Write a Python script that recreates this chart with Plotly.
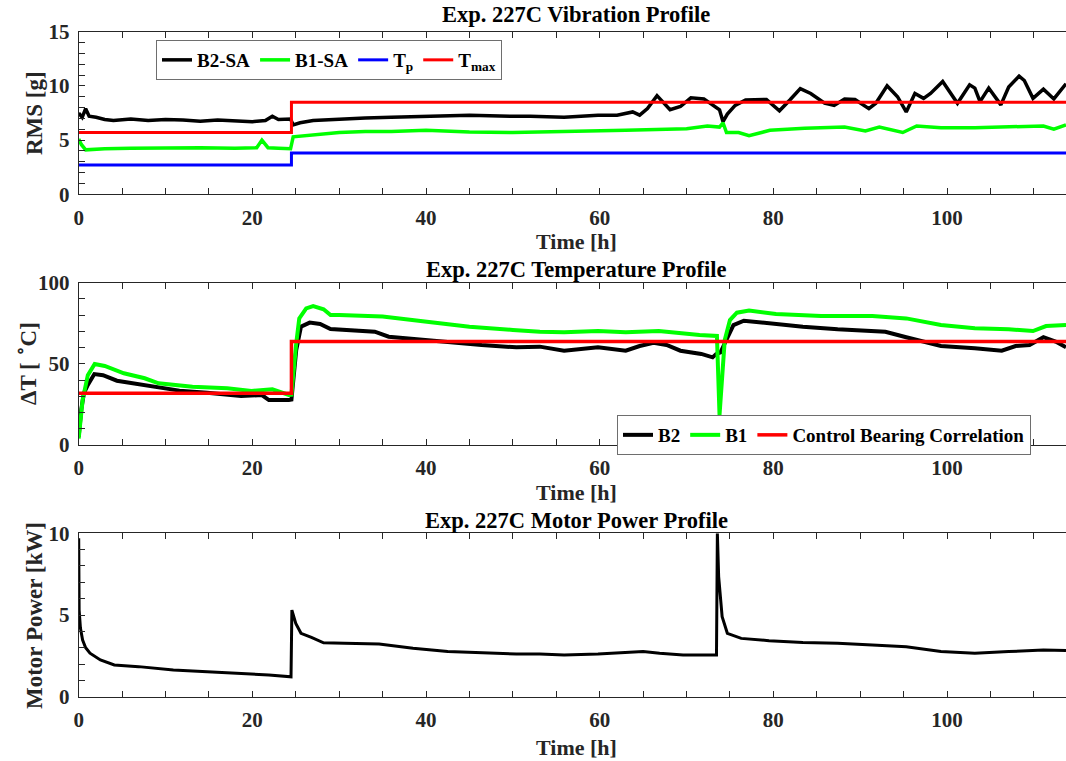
import plotly.graph_objects as go

# ---------------- Vibration profile (RMS [g]) ----------------
vib_b2_t = [0, 0.4, 0.8, 1.2, 2, 3, 4, 6, 8, 10, 12, 14, 16, 18, 20, 21.5, 22.3, 23, 24.4, 24.7,
            25.5, 27, 30, 33, 36, 40, 45, 50, 52, 55.9, 59.8, 62, 63.8, 64.6, 65.5, 66.6, 68.1,
            69.3, 70.5, 72.0, 73.3, 73.8, 74.2, 74.7, 75.6, 76.8, 79.2, 80.7, 81.9, 83.1, 84.3,
            85.9, 87.0, 88.2, 89.4, 91.0, 91.8, 93.1, 94.3, 95.3, 96.3, 97.3, 98.1, 99.5, 101.2,
            102.6, 103.2, 103.8, 104.8, 106.2, 107.1, 108.3, 108.9, 109.9, 111.1, 112.3, 113.7]
vib_b2 = [7.5, 7.1, 7.9, 7.2, 7.1, 6.9, 6.8, 6.95, 6.8, 6.9, 6.85, 6.75, 6.85, 6.8, 6.7, 6.8, 7.2,
          6.9, 6.95, 6.4, 6.6, 6.8, 6.95, 7.05, 7.1, 7.2, 7.3, 7.2, 7.2, 7.1, 7.3, 7.3, 7.6, 7.3,
          7.9, 9.1, 7.8, 8.1, 8.9, 8.8, 8.1, 7.8, 6.7, 7.4, 8.2, 8.7, 8.75, 7.7, 8.7, 9.75, 9.3,
          8.4, 8.2, 8.8, 8.75, 7.9, 8.4, 10.0, 9.0, 7.6, 9.3, 8.85, 9.3, 10.4, 8.4, 10.1, 9.8,
          8.55, 9.8, 8.25, 9.9, 10.9, 10.5, 8.85, 9.7, 8.8, 10.2]

vib_b1_t = [0, 0.3, 0.8, 1.5, 3, 6, 10, 14, 18, 20.5, 21.1, 21.8, 23, 24.4, 24.7, 26, 28, 30, 33,
            36, 40, 45, 50, 55, 59.8, 63, 67.7, 70, 72.4, 73.8, 74.2, 74.6, 76, 77.2, 79.6, 83.6,
            88.2, 90.6, 92.2, 94.9, 96.5, 99.3, 103.2, 107.1, 111.1, 112.3, 113.7]
vib_b1 = [5.1, 4.6, 4.1, 4.15, 4.2, 4.25, 4.3, 4.3, 4.25, 4.3, 5.0, 4.3, 4.25, 4.2, 5.3, 5.4, 5.6,
          5.7, 5.8, 5.8, 5.9, 5.75, 5.7, 5.75, 5.8, 5.9, 6.0, 6.05, 6.3, 6.2, 6.6, 5.7, 5.7, 5.4,
          5.9, 6.1, 6.2, 5.85, 6.2, 5.7, 6.3, 6.15, 6.15, 6.2, 6.3, 6.0, 6.4]

# Threshold steps (Tp, Tmax) change at the speed step
step_t = [0, 24.5, 113.7]
tp_vals = [2.7, 3.8, 3.8]
tmax_vals = [5.7, 8.5, 8.5]

# ---------------- Temperature profile (dT [C]) ----------------
temp_b2_t = [0, 0.3, 0.6, 1.05, 1.8, 2.8, 4.4, 6.8, 9.2, 11.6, 14.8, 18.7, 21.1, 21.9, 24.2, 24.5,
             25.05, 25.6, 26.6, 27.8, 29.0, 32.1, 34.1, 35.7, 38.5, 42.5, 46.4, 50.4, 53.1, 55.9,
             59.8, 63.0, 64.6, 66.2, 67.7, 69.3, 71.7, 73.0, 73.4, 73.9, 74.6, 75.4, 76.6, 79.5,
             83.4, 87.4, 92.9, 95.3, 99.3, 103.2, 106.3, 107.9, 109.5, 111.1, 112.5, 113.7]
temp_b2 = [5, 22, 32, 37, 43.7, 43, 39.6, 37.6, 35.5, 33.5, 32.2, 30.2, 30.8, 27.7, 27.7, 28, 58.5,
           72.9, 75.4, 74.6, 71.5, 70.4, 69.8, 66.7, 65.3, 63, 61.6, 60.2, 60.6, 58.1, 60.2, 58.1,
           61, 63, 61.6, 58.1, 56.1, 54, 56, 57, 64.7, 73.9, 76.6, 75, 72.9, 71.3, 69.8, 66.4, 61,
           59.6, 58.1, 61, 61.6, 66.4, 63.7, 60.2]

temp_b1_t = [0, 0.2, 0.45, 1.05, 1.5, 1.84, 3.0, 5.2, 7.6, 9.2, 13.1, 17.1, 19.9, 22.3, 24.2, 24.5,
             25.05, 25.4, 26.2, 27.0, 28.2, 29.0, 30, 35, 40.1, 45, 50, 53.1, 55.9, 59.8, 63, 66.8,
             71.5, 73.5, 73.8, 74.05, 74.4, 75.0, 75.8, 77.2, 80.3, 85.5, 91.4, 95.3, 99.3, 103.2,
             107.1, 109.9, 111.4, 113.7]
temp_b1 = [4, 15, 27.7, 43, 47.2, 49.9, 48.7, 44.2, 41.1, 38, 35.9, 34.9, 33.3, 34.3, 30.8, 31, 62.6,
           78, 84.2, 85.6, 83.6, 80.1, 80.1, 79.1, 76, 72.9, 70.9, 69.8, 69.5, 70.2, 69.5, 70.2,
           67.8, 67.2, 18.5, 40, 64.7, 77, 81.5, 82.8, 80.7, 79.5, 79.5, 78, 73.9, 71.9, 71.3, 70.2,
           73.3, 73.9]

corr_vals = [31.9, 63.8, 63.8]

# ---------------- Motor power profile (kW) ----------------
power_t = [0, 0.05, 0.2, 0.45, 0.8, 1.3, 2.5, 4.1, 6.9, 10.9, 14.8, 18.7, 21.9, 24.45, 24.55, 25.0,
           25.6, 26.8, 28.2, 30.6, 34.6, 38.5, 42.5, 46.5, 50.4, 53.1, 55.9, 59.8, 65.0, 66.9, 69.6,
           73.1, 73.45, 73.55, 73.7, 74.1, 74.7, 76.3, 79.5, 83.4, 87.4, 91.4, 95.3, 99.3, 103.2,
           107.1, 111.1, 113.7]
power = [9.7, 5.3, 4.2, 3.47, 3.0, 2.66, 2.25, 1.94, 1.84, 1.63, 1.53, 1.43, 1.33, 1.22, 5.3, 4.49,
         3.88, 3.63, 3.3, 3.27, 3.23, 2.96, 2.76, 2.69, 2.61, 2.61, 2.55, 2.61, 2.76, 2.66, 2.55,
         2.55, 2.55, 10.0, 7.35, 4.9, 3.88, 3.57, 3.43, 3.31, 3.27, 3.17, 3.06, 2.76, 2.66, 2.76,
         2.86, 2.82]

x_ticks = [0, 20, 40, 60, 80, 100]
titles = ["Exp. 227C Vibration Profile", "Exp. 227C Temperature Profile",
          "Exp. 227C Motor Power Profile"]
y_titles = ["RMS [g]", "ΔT [ <sup>∘</sup>C]", "Motor Power [kW]"]

# ---------------- layout geometry (pixels) ----------------
W, H = 1066, 761
FONT = "Liberation Serif"
AX = "#262626"
X_LEFT = 78.7
X_MAX = 113.7
panels = [(31.7, 194.3), (282.7, 445.0), (533.3, 696.7)]  # (top, bottom) pixel rows


def py(p):
    return 1 - p / H


def px(p):
    return p / W


fig = go.Figure()

fig.add_trace(go.Scatter(x=vib_b2_t, y=vib_b2, name="B2-SA", mode="lines",
                         line=dict(color="black", width=3.5), xaxis="x", yaxis="y"))
fig.add_trace(go.Scatter(x=vib_b1_t, y=vib_b1, name="B1-SA", mode="lines",
                         line=dict(color="#00ff00", width=3.5), xaxis="x", yaxis="y"))
fig.add_trace(go.Scatter(x=step_t, y=tp_vals, name="T<sub>p</sub>", mode="lines",
                         line=dict(color="#0000ff", width=3, shape="hv"), xaxis="x", yaxis="y"))
fig.add_trace(go.Scatter(x=step_t, y=tmax_vals, name="T<sub>max</sub>", mode="lines",
                         line=dict(color="#ff0000", width=3, shape="hv"), xaxis="x", yaxis="y"))

fig.add_trace(go.Scatter(x=temp_b2_t, y=temp_b2, name="B2", mode="lines", legend="legend2",
                         line=dict(color="black", width=4), xaxis="x2", yaxis="y2"))
fig.add_trace(go.Scatter(x=temp_b1_t, y=temp_b1, name="B1", mode="lines", legend="legend2",
                         line=dict(color="#00ff00", width=4), xaxis="x2", yaxis="y2"))
fig.add_trace(go.Scatter(x=step_t, y=corr_vals, name="Control Bearing Correlation", mode="lines",
                         legend="legend2", line=dict(color="#ff0000", width=3.5, shape="hv"),
                         xaxis="x2", yaxis="y2"))

fig.add_trace(go.Scatter(x=power_t, y=power, name="Motor Power", mode="lines", showlegend=False,
                         line=dict(color="black", width=3), xaxis="x3", yaxis="y3"))

tick_font = dict(family=FONT, size=21, color=AX, weight="bold")
y_specs = [(0, 15, 5, 1), (0, 100, 50, 10), (0, 10, 5, 1)]

for i, ((top, bot), (y0, y1, ydt, yminor)) in enumerate(zip(panels, y_specs)):
    sfx = "" if i == 0 else str(i + 1)
    fig.layout["xaxis" + sfx] = dict(
        domain=[px(X_LEFT), 1.0], range=[0, X_MAX], anchor="y" + sfx,
        tickvals=x_ticks, ticks="inside", ticklen=6, tickcolor=AX, tickwidth=1,
        minor=dict(dtick=5, tick0=0, ticks="inside", ticklen=6, tickcolor=AX, tickwidth=1),
        showline=True, linecolor=AX, linewidth=1, mirror="ticks",
        showgrid=False, zeroline=False, tickfont=tick_font, ticklabelstandoff=4,
        automargin=False, fixedrange=True)
    fig.layout["yaxis" + sfx] = dict(
        domain=[py(bot), py(top)], range=[y0, y1], anchor="x" + sfx,
        dtick=ydt, tick0=0, ticks="inside", ticklen=6, tickcolor=AX, tickwidth=1,
        minor=dict(dtick=yminor, tick0=0, ticks="inside", ticklen=6, tickcolor=AX, tickwidth=1),
        showline=True, linecolor=AX, linewidth=1,
        showgrid=False, zeroline=False, tickfont=tick_font, ticklabelstandoff=4,
        automargin=False, fixedrange=True)

annotations = []
title_rows = [15, 269, 520]
xlabel_rows = [241, 492, 747]
ytitle_pos = [(34, 113), (27, 364), (34, 616)]
for i in range(3):
    annotations.append(dict(text=titles[i], x=px(576), y=py(title_rows[i]), xref="paper",
                            yref="paper", xanchor="center", yanchor="middle", showarrow=False,
                            borderpad=0,
                            font=dict(family=FONT, size=22.5, color="black", weight="bold")))
    annotations.append(dict(text="Time [h]", x=px(576), y=py(xlabel_rows[i]), xref="paper",
                            yref="paper", xanchor="center", yanchor="middle", showarrow=False,
                            borderpad=0,
                            font=dict(family=FONT, size=22, color=AX, weight="bold")))
    annotations.append(dict(text=y_titles[i], x=px(ytitle_pos[i][0]), y=py(ytitle_pos[i][1]),
                            xref="paper", yref="paper", xanchor="center", yanchor="middle",
                            textangle=-90, showarrow=False, borderpad=0,
                            font=dict(family=FONT, size=23, color=AX, weight="bold")))

legend_font = dict(family=FONT, size=19, color="black", weight="bold")
fig.update_layout(
    width=W, height=H,
    margin=dict(l=0, r=0, t=0, b=0),
    paper_bgcolor="white", plot_bgcolor="white",
    showlegend=True,
    legend=dict(x=px(156), y=py(40), xanchor="left", yanchor="top", orientation="h",
                bgcolor="white", bordercolor="#6e6e6e", borderwidth=1, font=legend_font,
                itemwidth=30, traceorder="normal"),
    legend2=dict(x=px(617), y=py(415), xanchor="left", yanchor="top", orientation="h",
                 bgcolor="white", bordercolor="#6e6e6e", borderwidth=1, font=legend_font,
                 itemwidth=30, traceorder="normal"),
    annotations=annotations,
)

fig.write_html("out.html", config={"displayModeBar": False})
